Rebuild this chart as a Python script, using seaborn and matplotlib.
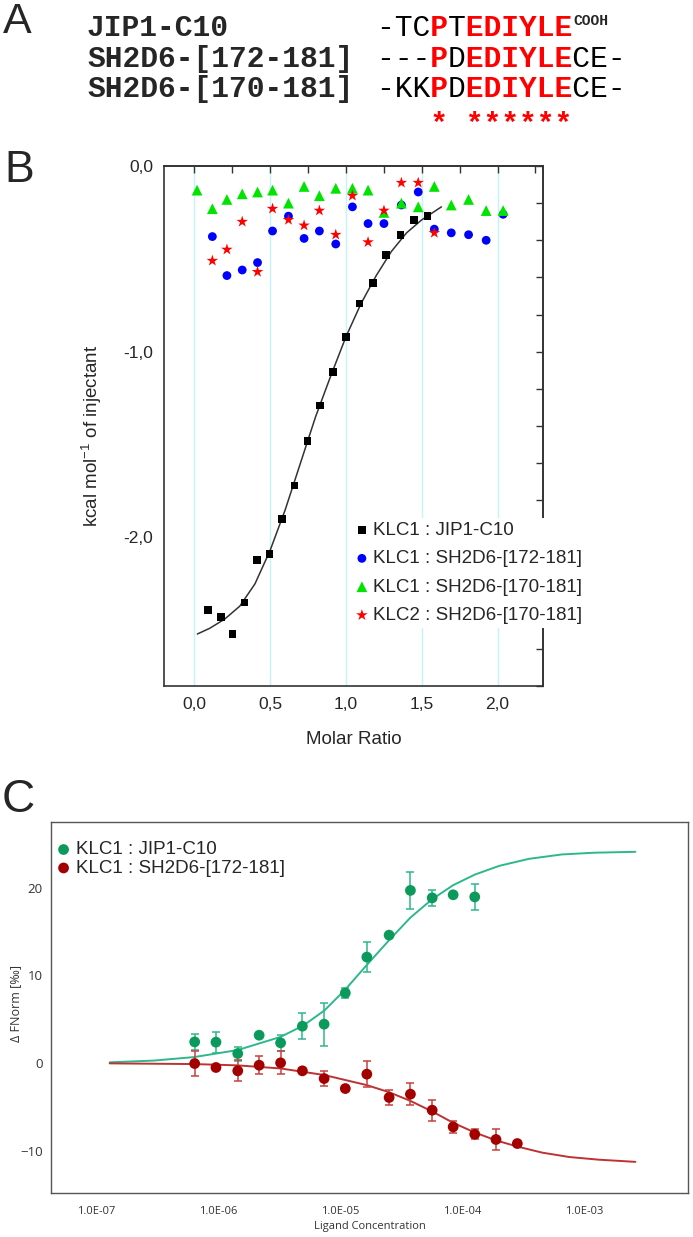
import numpy as np
import pandas as pd
import matplotlib
matplotlib.use("Agg")
import matplotlib.pyplot as plt
import matplotlib.ticker as mticker
import seaborn as sns

# ---------------- Panel A: sequence alignment ----------------
A_names = ["JIP1-C10", "SH2D6-[172-181]", "SH2D6-[170-181]"]
A_seqs = ["-TCPTEDIYLE", "---PDEDIYLECE-", "-KKPDEDIYLECE-"]
A_red = ["...x.xxxxxx", "...x.xxxxxx...", "...x.xxxxxx..."]
A_stars = "   * ******"

# ---------------- Panel B: ITC ----------------
jip_x = [0.092, 0.174, 0.253, 0.332, 0.413, 0.497, 0.578, 0.661, 0.746, 0.831,
         0.916, 1.001, 1.089, 1.179, 1.265, 1.361, 1.449, 1.539]
jip_y = [-2.39, -2.43, -2.52, -2.35, -2.12, -2.09, -1.90, -1.72, -1.48, -1.29,
         -1.11, -0.92, -0.74, -0.63, -0.48, -0.37, -0.29, -0.27]
jip_fit_x = [0.02, 0.10, 0.20, 0.30, 0.40, 0.50, 0.60, 0.70, 0.80, 0.90,
             1.00, 1.10, 1.20, 1.30, 1.40, 1.50, 1.63]
jip_fit_y = [-2.52, -2.49, -2.44, -2.37, -2.25, -2.07, -1.85, -1.60, -1.35, -1.13,
             -0.92, -0.74, -0.59, -0.46, -0.36, -0.29, -0.22]

sh172_x = [0.119, 0.215, 0.316, 0.417, 0.516, 0.621, 0.724, 0.825, 0.933, 1.043,
           1.146, 1.251, 1.366, 1.477, 1.583, 1.695, 1.809, 1.925, 2.037]
sh172_y = [-0.38, -0.59, -0.56, -0.52, -0.35, -0.27, -0.39, -0.35, -0.42, -0.22,
           -0.31, -0.31, -0.21, -0.14, -0.34, -0.36, -0.37, -0.40, -0.26]

sh170_x = [0.018, 0.119, 0.215, 0.316, 0.417, 0.516, 0.621, 0.724, 0.825, 0.933,
           1.043, 1.146, 1.251, 1.366, 1.477, 1.583, 1.695, 1.809, 1.925, 2.037]
sh170_y = [-0.13, -0.23, -0.18, -0.15, -0.14, -0.13, -0.20, -0.11, -0.16, -0.12,
           -0.12, -0.13, -0.25, -0.20, -0.22, -0.11, -0.21, -0.18, -0.24, -0.24]

klc2_x = [0.119, 0.215, 0.316, 0.417, 0.516, 0.621, 0.724, 0.825, 0.933, 1.043,
          1.146, 1.251, 1.366, 1.477, 1.583]
klc2_y = [-0.51, -0.45, -0.30, -0.57, -0.23, -0.29, -0.32, -0.24, -0.37, -0.16,
          -0.41, -0.24, -0.09, -0.09, -0.36]

B_labels = ["KLC1 : JIP1-C10", "KLC1 : SH2D6-[172-181]",
            "KLC1 : SH2D6-[170-181]", "KLC2 : SH2D6-[170-181]"]

# ---------------- Panel C: MST ----------------
conc_jip = [6.44e-7, 9.62e-7, 1.45e-6, 2.17e-6, 3.25e-6, 4.90e-6, 7.38e-6, 1.10e-5,
            1.65e-5, 2.51e-5, 3.75e-5, 5.65e-5, 8.39e-5, 1.26e-4]
fn_jip = [2.43, 2.40, 1.10, 3.19, 2.32, 4.22, 4.45, 8.00, 12.1, 14.6, 19.7, 18.85, 19.2, 18.96]
err_jip = [0.9, 1.2, 0.8, 0.3, 0.9, 1.45, 2.45, 0.6, 1.75, 0.3, 2.1, 0.9, 0.3, 1.5]

conc_sh = [6.44e-7, 9.62e-7, 1.45e-6, 2.17e-6, 3.25e-6, 4.90e-6, 7.38e-6, 1.10e-5,
           1.65e-5, 2.51e-5, 3.75e-5, 5.65e-5, 8.39e-5, 1.26e-4, 1.88e-4, 2.81e-4]
fn_sh = [-0.04, -0.49, -0.87, -0.23, 0.04, -0.87, -1.75, -2.89, -1.25, -3.91,
         -3.53, -5.36, -7.26, -8.10, -8.70, -9.16]
err_sh = [1.4, 0.3, 1.2, 1.0, 1.3, 0.3, 0.85, 0.3, 1.5, 0.8, 1.25, 1.2, 0.7, 0.6, 1.2, 0.3]

fit_jip_c = [1.3e-7, 3.0e-7, 6.4e-7, 1.45e-6, 3.25e-6, 5.0e-6, 7.4e-6, 1.1e-5, 1.65e-5,
             2.5e-5, 3.75e-5, 5.65e-5, 8.4e-5, 1.26e-4, 2.0e-4, 3.5e-4, 6.5e-4, 1.2e-3, 2.6e-3]
fit_jip_v = [0.1, 0.3, 0.7, 1.5, 3.0, 4.3, 6.0, 8.4, 11.2, 14.0, 16.6, 18.7, 20.3, 21.5,
             22.5, 23.3, 23.8, 24.0, 24.1]
fit_sh_c = [1.3e-7, 6.4e-7, 1.45e-6, 3.25e-6, 7.4e-6, 1.65e-5, 2.5e-5, 3.75e-5, 5.65e-5,
            8.4e-5, 1.26e-4, 1.88e-4, 2.8e-4, 4.5e-4, 7.5e-4, 1.3e-3, 2.6e-3]
fit_sh_v = [-0.02, -0.1, -0.25, -0.6, -1.35, -2.5, -3.3, -4.3, -5.5, -6.8, -7.9, -8.8,
            -9.5, -10.2, -10.7, -11.0, -11.25]

C_labels = ["KLC1 : JIP1-C10", "KLC1 : SH2D6-[172-181]"]
C_xticks = [1e-7, 1e-6, 1e-5, 1e-4, 1e-3]
C_yticks = [-10, 0, 10, 20]

# ---------------- figure ----------------
sns.set_style("white")
plt.rcParams['font.family'] = ['Liberation Sans', 'DejaVu Sans']
plt.rcParams['mathtext.default'] = 'regular'

W, H = 693, 1237
fig = plt.figure(figsize=(W / 100, H / 100), dpi=100)
fig.patch.set_facecolor("white")


def fx(x):
    return x / W


def fy(y):
    return 1 - y / H


# Panel letters
fig.text(fx(3), fy(22), "A", fontsize=31, va='center', ha='left')
fig.text(fx(4), fy(170), "B", fontsize=32, va='center', ha='left')
fig.text(fx(2), fy(800), "C", fontsize=33, va='center', ha='left')

# Panel A
mono = 'Liberation Mono'
fsA = 21.3
cw = 0.6 * fsA * 100 / 72
row_y = [28, 59, 89]
x_seq = 377
for name, seq, red, y in zip(A_names, A_seqs, A_red, row_y):
    fig.text(fx(87), fy(y), name, family=mono, weight='bold', fontsize=fsA, va='center', ha='left')
    black = "".join(" " if m == "x" else c for c, m in zip(seq, red))
    redt = "".join(c if m == "x" else " " for c, m in zip(seq, red))
    fig.text(fx(x_seq), fy(y), black, family=mono, fontsize=fsA, va='center', ha='left', color='black')
    fig.text(fx(x_seq), fy(y), redt, family=mono, weight='bold', fontsize=fsA, va='center',
             ha='left', color='#ff0000')
fig.text(fx(x_seq + 11 * cw + 1), fy(21), "COOH", family=mono, weight='bold', fontsize=10.5,
         va='center', ha='left')
fig.text(fx(x_seq), fy(125), A_stars, family=mono, weight='bold', fontsize=fsA, va='center',
         ha='left', color='#ff0000')

# Panel B
axB = fig.add_axes([164 / W, 1 - 686 / H, 379 / W, 520 / H])
axB.set_facecolor('white')
for xv in [0, 0.5, 1.0, 1.5, 2.0]:
    axB.axvline(xv, color='#c6f4f6', lw=1.0, zorder=0)

sns.lineplot(x=jip_fit_x, y=jip_fit_y, ax=axB, color='#333333', lw=1.1, sort=False,
             estimator=None, zorder=2)
sns.scatterplot(x=jip_x, y=jip_y, ax=axB, marker='s', color='black', s=30, edgecolor='none',
                label=B_labels[0], zorder=3)
sns.scatterplot(x=sh172_x, y=sh172_y, ax=axB, marker='o', color='#0000ff', s=40,
                edgecolor='none', label=B_labels[1], zorder=3)
sns.scatterplot(x=sh170_x, y=sh170_y, ax=axB, marker='^', color='#00e400', s=60,
                edgecolor='none', label=B_labels[2], zorder=3)
sns.scatterplot(x=klc2_x, y=klc2_y, ax=axB, marker='*', color='#ff0000', s=75,
                edgecolor='none', label=B_labels[3], zorder=4)

axB.set_xlim(-0.2, 2.3)
axB.set_ylim(-2.8, 0.0)
axB.xaxis.set_major_locator(mticker.MultipleLocator(0.5))
axB.xaxis.set_minor_locator(mticker.MultipleLocator(0.25))
axB.yaxis.set_major_locator(mticker.MultipleLocator(1.0))
axB.yaxis.set_minor_locator(mticker.MultipleLocator(0.2))
comma = mticker.FuncFormatter(lambda v, p: ("%.1f" % (0.0 if abs(v) < 1e-9 else v)).replace('.', ','))
axB.xaxis.set_major_formatter(comma)
axB.yaxis.set_major_formatter(comma)
axB.tick_params(axis='both', which='both', direction='out', length=5, width=1.0,
                color='#333333', labelsize=12.5, top=False, right=False, pad=3)
for sp in axB.spines.values():
    sp.set_color('#333333')
    sp.set_linewidth(1.2)

secx = axB.secondary_xaxis('top')
secx.xaxis.set_major_locator(mticker.MultipleLocator(0.5))
secx.xaxis.set_minor_locator(mticker.MultipleLocator(0.25))
secx.tick_params(axis='x', which='both', direction='in', length=5, width=1.0,
                 color='#333333', labeltop=False)
secx.spines['top'].set_color('#333333')
secx.spines['top'].set_linewidth(1.2)
secy = axB.secondary_yaxis('right')
secy.yaxis.set_major_locator(mticker.MultipleLocator(1.0))
secy.yaxis.set_minor_locator(mticker.MultipleLocator(0.2))
secy.tick_params(axis='y', which='both', direction='in', length=5, width=1.0,
                 color='#333333', labelright=False)
secy.spines['right'].set_color('#333333')
secy.spines['right'].set_linewidth(1.2)

axB.set_xlabel("Molar Ratio", fontsize=13.5)
axB.set_ylabel("kcal mol$^{-1}$ of injectant", fontsize=13.5)
axB.xaxis.set_label_coords(0.5, -0.087)
axB.yaxis.set_label_coords(-0.158, 0.48)

legB = axB.legend(loc='upper left', bbox_to_anchor=(0.49, 0.323), frameon=True,
                  facecolor='white', edgecolor='none', framealpha=1, fontsize=13.5,
                  handletextpad=0.15, labelspacing=0.6, borderpad=0.2, handlelength=0.9,
                  borderaxespad=0)
legB.set_zorder(10)

# Panel C
axC = fig.add_axes([51 / W, 1 - 1193 / H, 637 / W, 371 / H])
axC.set_xscale('log')
green_pt, green_ln = '#0c9a5c', '#2db88c'
red_pt, red_ln = '#a30000', '#bb3333'

sns.lineplot(x=fit_jip_c, y=fit_jip_v, ax=axC, color=green_ln, lw=1.4, sort=False,
             estimator=None, zorder=2)
sns.lineplot(x=fit_sh_c, y=fit_sh_v, ax=axC, color=red_ln, lw=1.4, sort=False,
             estimator=None, zorder=2)
axC.errorbar(conc_jip, fn_jip, yerr=err_jip, fmt='none', ecolor=green_ln, elinewidth=1.1,
             capsize=3, capthick=1.1, zorder=3)
axC.errorbar(conc_sh, fn_sh, yerr=err_sh, fmt='none', ecolor='#c84040', elinewidth=1.1,
             capsize=3, capthick=1.1, zorder=3)
sns.scatterplot(x=conc_jip, y=fn_jip, ax=axC, color=green_pt, s=60, edgecolor='none',
                label=C_labels[0], zorder=4)
sns.scatterplot(x=conc_sh, y=fn_sh, ax=axC, color=red_pt, s=60, edgecolor='none',
                label=C_labels[1], zorder=4)

axC.set_xlim(4.3e-8, 7.0e-3)
axC.set_ylim(-14.8, 27.5)
axC.xaxis.set_major_locator(mticker.FixedLocator(C_xticks))
axC.xaxis.set_major_formatter(mticker.FuncFormatter(
    lambda v, p: "1.0E-%02d" % int(round(-np.log10(v)))))
axC.xaxis.set_minor_locator(mticker.LogLocator(base=10, subs=np.arange(2, 10), numticks=20))
axC.xaxis.set_minor_formatter(mticker.NullFormatter())
axC.yaxis.set_major_locator(mticker.FixedLocator(C_yticks))
axC.tick_params(axis='x', which='major', direction='out', length=6, width=1.0, color='#555555',
                labelsize=8, labelcolor='#333333', pad=3)
axC.tick_params(axis='x', which='minor', direction='out', length=3.5, width=0.9, color='#555555')
axC.tick_params(axis='y', which='major', direction='out', length=4, width=1.0, color='#555555',
                labelsize=9.5, labelcolor='#333333', pad=2)
for lab in axC.get_xticklabels() + axC.get_yticklabels():
    lab.set_family('Open Sans')
for sp in axC.spines.values():
    sp.set_color('#555555')
    sp.set_linewidth(1.0)
axC.set_xlabel("Ligand Concentration", fontsize=8, family='Open Sans', color='#333333')
axC.set_ylabel("\u0394 FNorm [\u2030]", fontsize=9, family=['Open Sans', 'DejaVu Sans'],
               color='#333333')
axC.xaxis.set_label_coords(0.5, -0.076)
axC.yaxis.set_label_coords(-0.046, 0.512)
axC.legend(loc='upper left', bbox_to_anchor=(0.005, 0.953), frameon=False, fontsize=13.5,
           handletextpad=0.25, labelspacing=0.07, borderpad=0.1, handlelength=0.8,
           borderaxespad=0)

fig.savefig("out.png", dpi=100, facecolor='white')
